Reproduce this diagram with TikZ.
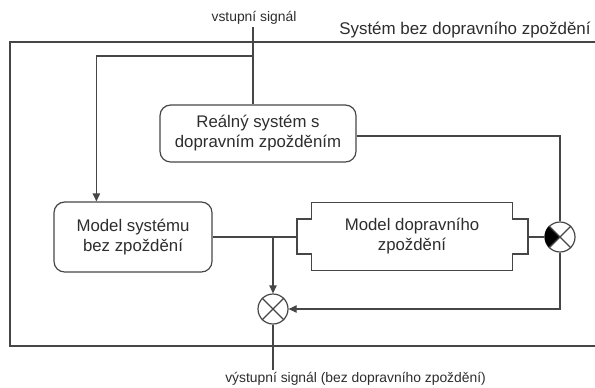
\documentclass[tikz,border=0pt]{standalone}
\usepackage{fontspec}
\setmainfont{Liberation Sans}
\usetikzlibrary{arrows.meta,calc,shapes.geometric}
\definecolor{ln}{RGB}{70,70,70}
\definecolor{tx}{RGB}{45,45,45}
\tikzset{
  wire/.style={draw=ln,line width=0.9pt},
  arr/.style={wire,-{Triangle[length=6pt,width=5.5pt]}},
  rbox/.style={draw=ln,line width=0.9pt,rounded corners=8pt,align=center,text=tx,
    font=\fontsize{12.6pt}{15pt}\selectfont,inner sep=0pt},
  plain/.style={inner sep=0pt,align=center,text=tx,font=\fontsize{12.6pt}{15pt}\selectfont},
  small/.style={inner sep=0pt,text=tx,font=\fontsize{10.4pt}{12pt}\selectfont},
  sumnode/.style={circle,draw=ln,line width=0.9pt,minimum size=22.5pt,inner sep=0pt,fill=white},
}
\begin{document}
\begin{tikzpicture}[x=0.75pt,y=-0.75pt]
\useasboundingbox (0,0) rectangle (595,387);
% frame
\draw[wire] (610,42) -- (10,42) -- (10,346) -- (610,346);
\node[plain,anchor=base west,font=\fontsize{12.7pt}{15pt}\selectfont] (title) at (339,34) {Systém bez dopravního zpoždění};
% blocks
\node[rbox,minimum width=147pt,minimum height=42.75pt] (real) at (258,133.5) {Reálný systém s\\dopravním zpožděním};
\node[rbox,minimum width=118.5pt,minimum height=52.5pt] (msys) at (133,237) {Model systému\\bez zpoždění};
\node[plain,minimum width=150pt,minimum height=51pt] (mdz) at (412,236.5) {Model dopravního\\zpoždění};
\coordinate (mdzL) at (297,237);
\coordinate (mdzR) at (528,237);
\draw[wire] (mdz.north west) -- (mdz.north east) -- (mdz.east |- 0,219) -- (mdzR |- 0,219)
  -- (mdzR |- 0,254) -- (mdz.east |- 0,254) -- (mdz.south east) -- (mdz.south west)
  -- (mdz.west |- 0,254) -- (mdzL |- 0,254) -- (mdzL |- 0,219) -- (mdz.west |- 0,219) -- cycle;
% sum nodes
\node[sumnode] (sr) at (560,237) {};
\fill[black] (sr.center) -- (sr.135) arc (135:225:11.25pt) -- cycle;
\draw[wire] (sr.45) -- (sr.225) (sr.135) -- (sr.315);
\node[sumnode] (sb) at (273,309) {};
\draw[wire] (sb.45) -- (sb.225) (sb.135) -- (sb.315);
% labels
\node[small] (inlab) at (254,18) {vstupní signál};
\node[small,anchor=west] (outlab) at (225,379) {výstupní signál (bez dopravního zpoždění)};
% connectors
\coordinate (inp) at (253,27);
\coordinate (br) at (253,56);
\coordinate (j) at (273,237);
\coordinate (out) at (273,370);
\draw[wire] (inp) -- (inp |- real.north);
\draw[arr] (br) -| ($(msys.north west)!0.27!(msys.north east)$);
\draw[wire] (real.east |- 0,136) -| (sr.north);
\draw[wire] (msys.east) -- (mdzL);
\draw[arr] (j) -- (sb.north);
\draw[wire] (mdzR) -- (sr.west);
\draw[arr] (sr.south) |- (sb.east);
\draw[wire] (sb.south) -- (out);
\end{tikzpicture}
\end{document}
